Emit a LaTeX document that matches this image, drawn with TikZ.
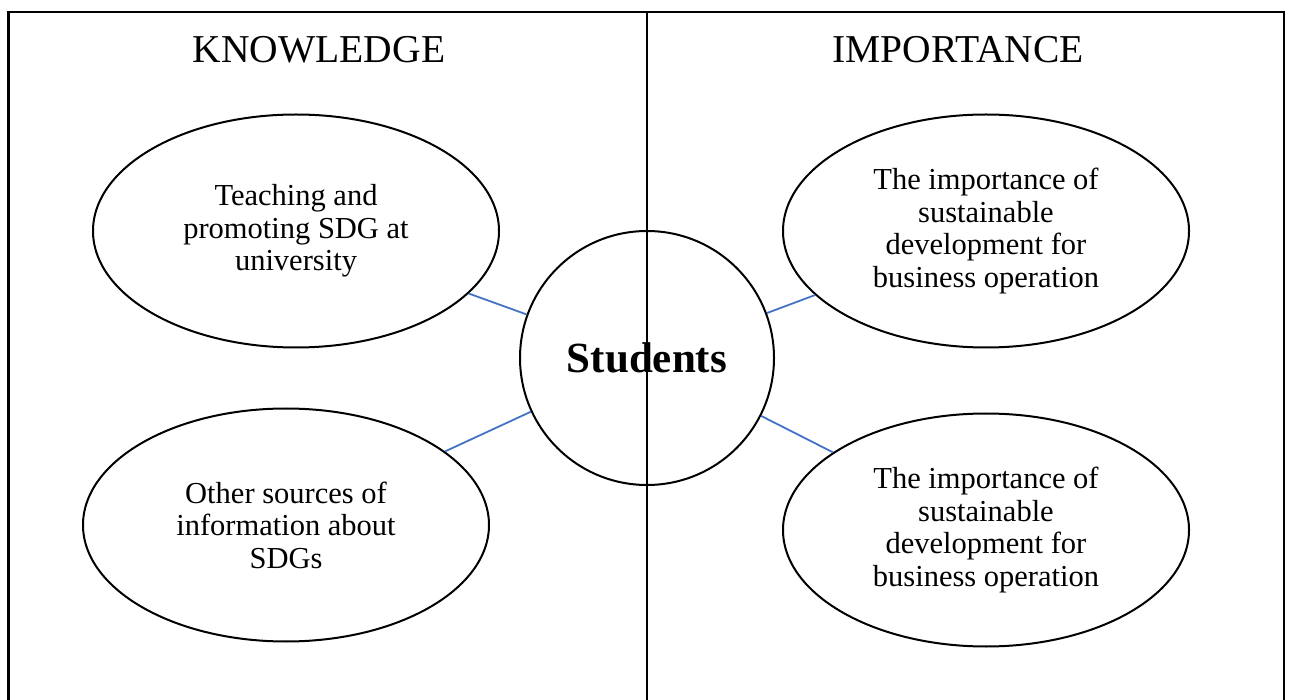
\documentclass[tikz,border=0pt]{standalone}
\usepackage{fontspec}
\setmainfont{Liberation Serif}
\usetikzlibrary{shapes.geometric}
\definecolor{linkblue}{RGB}{68,114,196}

\begin{document}
\begin{tikzpicture}[x=1pt, y=-1pt,
  oval/.style={draw, ellipse, line width=2pt, minimum width=406pt, minimum height=233pt, inner sep=0pt, align=center,
    font=\fontsize{30.5}{32.5}\selectfont},
  hub/.style={draw, circle, line width=2pt, minimum size=254pt, inner sep=0pt, font=\fontsize{43}{46}\selectfont\bfseries},
  head/.style={font=\fontsize{39.5}{42}\selectfont},
  link/.style={draw=linkblue, line width=1.8pt}]
\useasboundingbox (0,0) rectangle (1291,700);
% frame, open at the bottom
\draw[line width=2.4pt] (8.5,700) -- (8.5,12) -- (1284,12) -- (1284,700);
\node[head] (know) at (319,50) {KNOWLEDGE};
\node[head] (imp) at (958,50) {IMPORTANCE};
\node[oval] (teach) at (296,231) {Teaching and\\ promoting SDG at\\ university};
\node[oval] (other) at (286,525) {Other sources of\\ information about\\ SDGs};
\node[oval] (bizA) at (986,231) {The importance of\\ sustainable\\ development for\\ business operation};
\node[oval] (bizB) at (986,530) {The importance of\\ sustainable\\ development for\\ business operation};
\node[hub] (stud) at (647,358) {Students};
\draw[link] (teach) -- (stud);
\draw[link] (other) -- (stud);
\draw[link] (bizA) -- (stud);
\draw[link] (bizB) -- (stud);
% divider
\draw[line width=2pt] (647,12) -- (647,700);
\end{tikzpicture}
\end{document}
